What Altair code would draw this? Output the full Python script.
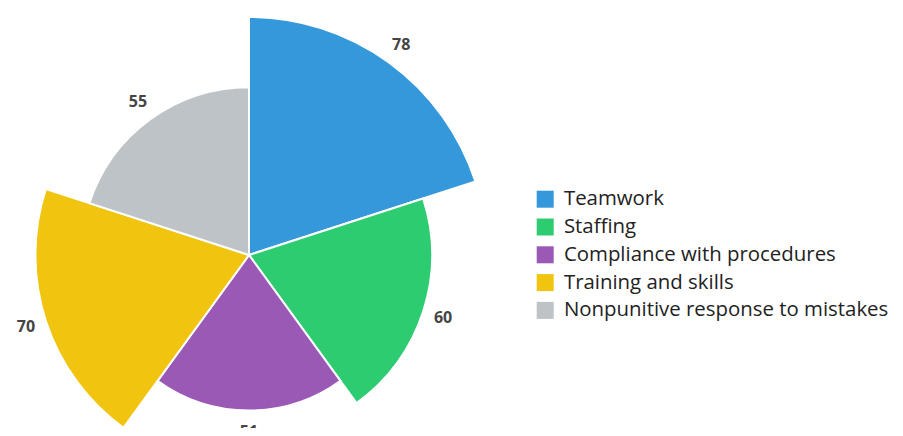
import altair as alt
import pandas as pd

categories = ["Teamwork", "Staffing", "Compliance with procedures", "Training and skills", "Nonpunitive response to mistakes"]
values = [78, 60, 51, 70, 55]
colors = ["#3498db", "#2ecc71", "#9b59b6", "#f1c40f", "#bdc3c7"]

n = len(categories)
df = pd.DataFrame({
    "category": categories,
    "value": values,
    "start": list(range(n)),
    "end": [i + 1 for i in range(n)],
    "mid": [i + 0.5 for i in range(n)],
})

CX, CY = 241, 247
rscale = alt.Scale(type="linear", domain=[0, 78], range=[0, 238], zero=True)
tscale = alt.Scale(domain=[0, n], range=[0, 6.283185307179586])

base = alt.Chart(df).encode(
    radius=alt.Radius("value:Q", scale=rscale),
    x=alt.value(CX),
    y=alt.value(CY),
)

arcs = base.mark_arc(stroke="white", strokeWidth=2).encode(
    theta=alt.Theta("start:Q", scale=tscale, stack=False),
    theta2="end:Q",
    color=alt.Color(
        "category:N",
        scale=alt.Scale(domain=categories, range=colors),
        sort=categories,
        legend=alt.Legend(
            title=None,
            orient="none",
            legendX=527,
            legendY=181,
            symbolType="square",
            symbolSize=289,
            symbolStrokeWidth=0,
            labelFont="Open Sans",
            labelFontSize=20.4,
            labelColor="#222222",
            rowPadding=6.8,
            labelOffset=8.5,
            labelLimit=0,
        ),
    ),
)

labels = base.mark_text(
    radiusOffset=21,
    font="Open Sans",
    fontSize=16,
    fontWeight="bold",
    color="#444444",
).encode(
    theta=alt.Theta("mid:Q", scale=tscale, stack=False),
    text="value:Q",
)

chart = (arcs + labels).properties(
    width=887,
    height=420,
    autosize=alt.AutoSizeParams(type="none"),
    padding=0,
).configure_view(stroke=None)

chart.save("out.html", embed_options={"renderer": "svg", "actions": False})
